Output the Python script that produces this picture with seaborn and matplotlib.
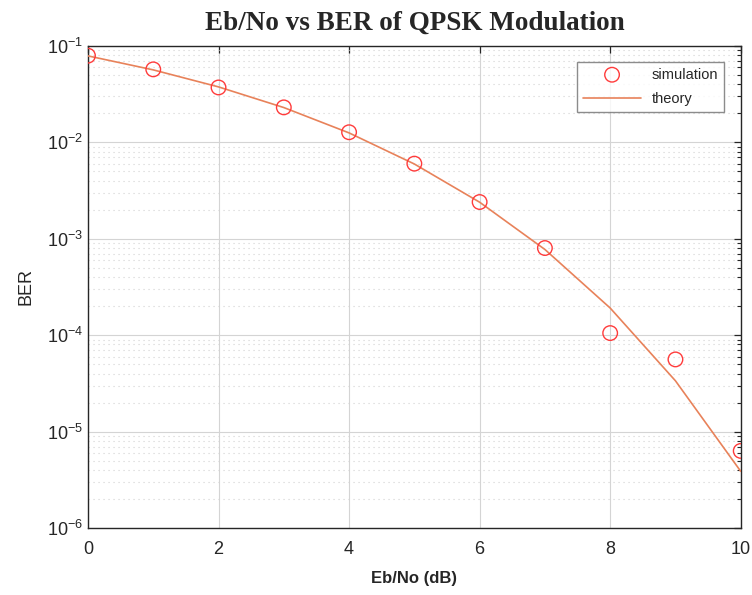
import matplotlib
matplotlib.use("Agg")
import matplotlib.pyplot as plt
import seaborn as sns
import pandas as pd
from matplotlib.ticker import LogLocator, MultipleLocator, NullFormatter

ebno_db = [0, 1, 2, 3, 4, 5, 6, 7, 8, 9, 10]
ber_sim = [0.079, 0.057, 0.037, 0.023, 0.0127, 0.0060, 0.0024, 0.00080, 1.05e-4, 5.6e-5, 6.3e-6]
ber_theory = [0.0786, 0.0563, 0.0375, 0.0229, 0.0125, 0.00595, 0.00239, 0.000773, 0.000191, 3.36e-5, 3.87e-6]

sns.set_style("white")
plt.rcParams['font.family'] = ['Liberation Sans', 'DejaVu Sans']
plt.rcParams['mathtext.fontset'] = 'custom'
plt.rcParams['mathtext.rm'] = 'Liberation Sans'
plt.rcParams['mathtext.it'] = 'Liberation Sans'
plt.rcParams['axes.unicode_minus'] = False

df = pd.DataFrame({"EbNo": ebno_db, "sim": ber_sim, "theory": ber_theory})

fig = plt.figure(figsize=(7.52, 5.95), dpi=100)
ax = fig.add_axes([0.117, 0.1126, 0.868, 0.8104])

sns.scatterplot(data=df, x="EbNo", y="sim", ax=ax, marker='o', s=110,
                facecolors='none', edgecolor='#FF3B3B', linewidth=1.0,
                label='simulation', zorder=4)
sns.lineplot(data=df, x="EbNo", y="theory", ax=ax, color='#E8825A',
             linewidth=1.2, label='theory', zorder=3)

ax.set_yscale('log')
ax.set_xlim(0, 10)
ax.set_ylim(1e-6, 1e-1)
ax.xaxis.set_major_locator(MultipleLocator(2))
ax.yaxis.set_major_locator(LogLocator(base=10, numticks=10))
ax.yaxis.set_minor_locator(LogLocator(base=10, subs=range(2, 10), numticks=20))
ax.yaxis.set_minor_formatter(NullFormatter())

ax.grid(True, which='major', color='#d4d4d4', linewidth=0.8, linestyle='-')
ax.grid(True, which='minor', axis='y', color='#d2d2d2', linewidth=0.8, linestyle=(0, (1, 3.5)))
ax.set_axisbelow(True)

ax.tick_params(axis='both', which='both', direction='in', top=True, right=True,
               colors='#262626', labelsize=13)
ax.tick_params(axis='both', which='major', length=5, width=0.9)
ax.tick_params(axis='both', which='minor', length=3, width=0.8)
ax.tick_params(axis='x', pad=9)
for sp in ax.spines.values():
    sp.set_color('#262626')
    sp.set_linewidth(1.0)

ax.set_xlabel('Eb/No (dB)', fontsize=12, fontweight='bold', color='#262626', labelpad=10)
ax.set_ylabel('BER', fontsize=13, color='#262626', labelpad=9)
ax.set_title('Eb/No vs BER of QPSK Modulation', pad=11.5,
             fontsize=19.5, fontweight='bold', family=['Liberation Serif', 'DejaVu Serif'])

leg = ax.legend(loc='upper right', bbox_to_anchor=(0.974, 0.967), borderaxespad=0,
                fontsize=10.5, frameon=True, fancybox=False, edgecolor='#707070',
                borderpad=0.4, handlelength=4.0, handletextpad=0.7, labelspacing=0.75)
leg.get_frame().set_linewidth(1.0)

fig.savefig('out.png', dpi=100)
